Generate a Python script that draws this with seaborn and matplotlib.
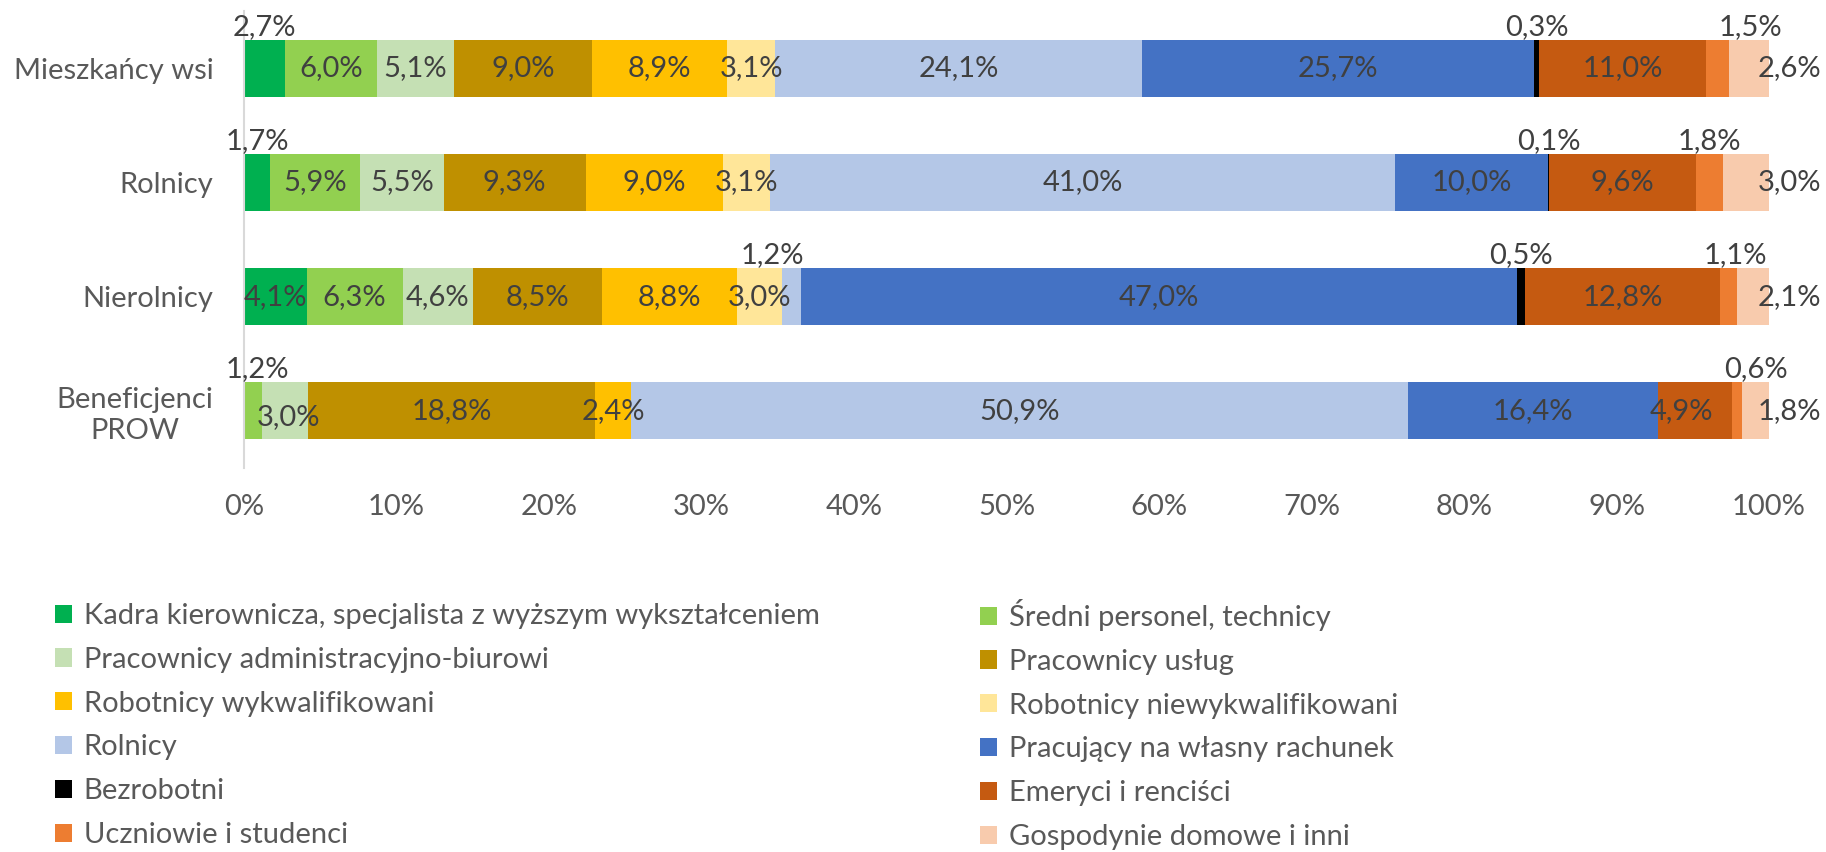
import numpy as np
import pandas as pd
import matplotlib
matplotlib.use("Agg")
import matplotlib.pyplot as plt
from matplotlib.patches import Patch
import seaborn as sns

# ---------------- data ----------------
categories = ["Mieszkańcy wsi", "Rolnicy", "Nierolnicy", "Beneficjenci\nPROW"]
series_names = [
    "Kadra kierownicza, specjalista z wyższym wykształceniem",
    "Średni personel, technicy",
    "Pracownicy administracyjno-biurowi",
    "Pracownicy usług",
    "Robotnicy wykwalifikowani",
    "Robotnicy niewykwalifikowani",
    "Rolnicy",
    "Pracujący na własny rachunek",
    "Bezrobotni",
    "Emeryci i renciści",
    "Uczniowie i studenci",
    "Gospodynie domowe i inni",
]
kadra = [2.7, 1.7, 4.1, 0.0]
sredni = [6.0, 5.9, 6.3, 1.2]
administracja = [5.1, 5.5, 4.6, 3.0]
uslugi = [9.0, 9.3, 8.5, 18.8]
wykwalifikowani = [8.9, 9.0, 8.8, 2.4]
niewykwalifikowani = [3.1, 3.1, 3.0, 0.0]
rolnicy = [24.1, 41.0, 1.2, 50.9]
wlasny_rachunek = [25.7, 10.0, 47.0, 16.4]
bezrobotni = [0.3, 0.1, 0.5, 0.0]
emeryci = [11.0, 9.6, 12.8, 4.9]
uczniowie = [1.5, 1.8, 1.1, 0.6]
gospodynie = [2.6, 3.0, 2.1, 1.8]

x_ticks = [0, 10, 20, 30, 40, 50, 60, 70, 80, 90, 100]
x_tick_labels = ["0%", "10%", "20%", "30%", "40%", "50%", "60%", "70%", "80%", "90%", "100%"]

# ---------------- style ----------------
colors = ["#00B050", "#92D050", "#C5E0B4", "#BF9000", "#FFC000", "#FFE699",
          "#B4C7E7", "#4472C4", "#000000", "#C55A11", "#ED7D31", "#F8CBAD"]

# labels placed above the bar: (category index, series index) -> pixel nudge in x
labels_above = {(0, 0): 0, (0, 8): 0, (0, 10): 33,
                (1, 0): 0, (1, 8): 0, (1, 10): 0,
                (2, 6): -19, (2, 8): 0, (2, 10): 7,
                (3, 1): 4, (3, 10): 19}
inside_nudge = {(3, 2): (3, -6), (3, 9): (-14, 0)}

sns.set_theme(style="white")
plt.rcParams["font.family"] = ["Lato", "DejaVu Sans"]
FS = 21
TXT = "#404040"
GRAY = "#595959"

values = np.array([kadra, sredni, administracja, uslugi, wykwalifikowani,
                   niewykwalifikowani, rolnicy, wlasny_rachunek, bezrobotni,
                   emeryci, uczniowie, gospodynie])
cum = values.cumsum(axis=0)

fig = plt.figure(figsize=(18.26, 8.52), dpi=100)
ax = fig.add_axes([244 / 1826, 1 - 468 / 852, 1525 / 1826, 457 / 852])

df = pd.DataFrame({"kategoria": categories})
for i in reversed(range(len(series_names))):
    df["cum"] = cum[i]
    sns.barplot(data=df, x="cum", y="kategoria", order=categories, orient="h",
                color=colors[i], saturation=1, width=0.5, errorbar=None,
                linewidth=0, ax=ax)

ax.set_xlim(0, 100)
ax.set_ylim(3.5, -0.5)
ax.set_xlabel("")
ax.set_ylabel("")
ax.set_xticks(x_ticks)
ax.set_xticklabels(x_tick_labels)
ax.tick_params(axis="x", length=0, pad=19, labelsize=FS, labelcolor=GRAY)
ax.tick_params(axis="y", length=0, pad=22, labelsize=FS, labelcolor=GRAY)
for lab in ax.get_yticklabels():
    lab.set_multialignment("center")
for s in ["top", "right", "bottom"]:
    ax.spines[s].set_visible(False)
ax.spines["left"].set_color("#D9D9D9")
ax.spines["left"].set_linewidth(1.5)
ax.grid(False)


def fmt(v):
    return f"{v:.1f}%".replace(".", ",")


n_series = len(series_names)
for j in range(len(categories)):
    left = 0.0
    for i in range(n_series):
        v = values[i][j]
        if v > 0:
            if i == n_series - 1:
                ax.annotate(fmt(v), xy=(100, j), xytext=(-11, 0),
                            textcoords="offset pixels", ha="left", va="center",
                            fontsize=FS, color=TXT)
            elif (j, i) in labels_above:
                ax.annotate(fmt(v), xy=(left + v / 2, j - 0.25),
                            xytext=(labels_above[(j, i)], 5),
                            textcoords="offset pixels", ha="center", va="baseline",
                            fontsize=FS, color=TXT)
            else:
                dx, dy = inside_nudge.get((j, i), (0, 0))
                ax.annotate(fmt(v), xy=(left + v / 2, j), xytext=(dx, dy),
                            textcoords="offset pixels", ha="center", va="center",
                            fontsize=FS, color=TXT)
        left += v

handles = [Patch(facecolor=c, edgecolor="none") for c in colors]
col1 = list(range(0, n_series, 2))
col2 = list(range(1, n_series, 2))
for idx, xpos, ytop in [(col1, 55, 603), (col2, 980, 599)]:
    fig.legend([handles[k] for k in idx], [series_names[k] for k in idx],
               loc="upper left", bbox_to_anchor=(xpos / 1826, 1 - ytop / 852),
               frameon=False, borderpad=0, borderaxespad=0, fontsize=FS,
               labelcolor=GRAY, handlelength=0.58, handleheight=0.58,
               handletextpad=0.4, labelspacing=0.61)

fig.savefig("out.png", dpi=100)
